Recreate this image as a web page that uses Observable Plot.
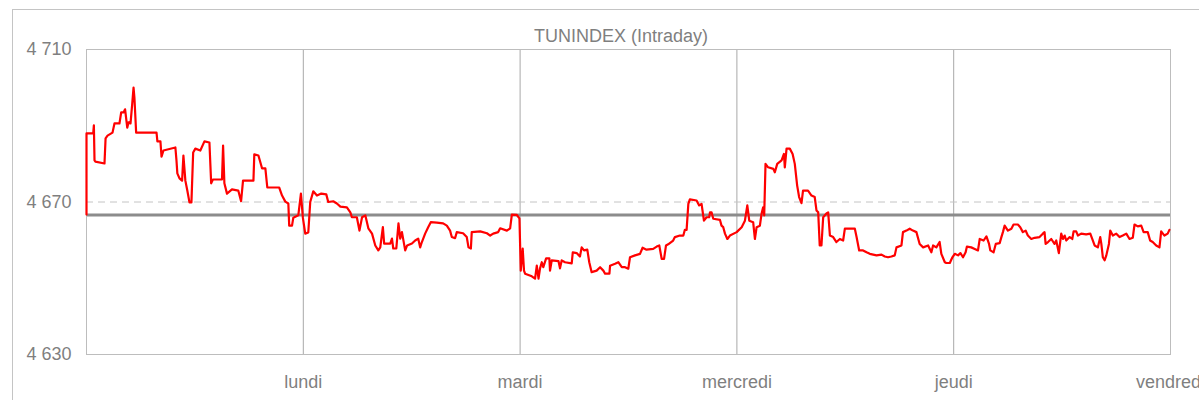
<!DOCTYPE html>
<html>
<head>
<meta charset="utf-8">
<script src="https://cdn.jsdelivr.net/npm/d3@7"></script>
<script src="https://cdn.jsdelivr.net/npm/@observablehq/plot@0.6"></script>
<style>
  html, body { margin: 0; padding: 0; background: #fff; width: 1199px; height: 400px; overflow: hidden; }
  #wrap { position: relative; width: 1199px; height: 400px; overflow: hidden; font-family: "Liberation Sans", Arial, sans-serif; }
  #border { position: absolute; left: 12px; top: 9px; width: 1300px; height: 500px; border: 1px solid #c4c4c4; box-sizing: border-box; }
  #title { position: absolute; left: 0; width: 1242px; top: 25px; text-align: center; font-size: 18px; color: #7f7f7f; line-height: 22px; }
  #chart { position: absolute; left: 0; top: 0; }
</style>
</head>
<body>
<div id="wrap">
  <div id="border"></div>
  <div id="title">TUNINDEX (Intraday)</div>
  <div id="chart"></div>
</div>
<script>
// Time in trading-day units (0 = start of first session shown), index level
const intraday = [
  [0,4666.7],[0,4688.0],[0.031,4688.0],[0.034,4690.1],[0.037,4680.9],[0.041,4680.6],[0.083,4680.1],[0.088,4686.7],
  [0.097,4687.4],[0.120,4688.2],[0.129,4690.6],[0.152,4690.6],[0.160,4693.5],[0.171,4693.5],[0.178,4694.3],[0.188,4689.5],
  [0.194,4690.9],[0.203,4690.6],[0.211,4695.8],[0.217,4700.0],[0.221,4697.4],[0.229,4688.2],[0.323,4688.2],[0.327,4685.9],
  [0.341,4685.9],[0.346,4681.9],[0.355,4683.5],[0.410,4684.3],[0.415,4680.9],[0.419,4677.5],[0.429,4676.2],[0.441,4675.6],
  [0.447,4682.2],[0.456,4675.6],[0.465,4673.0],[0.475,4669.9],[0.484,4669.9],[0.492,4683.0],[0.502,4684.0],[0.525,4683.5],
  [0.544,4685.9],[0.567,4685.6],[0.575,4674.9],[0.583,4675.9],[0.625,4675.9],[0.630,4684.8],[0.636,4674.9],[0.648,4672.2],
  [0.671,4673.3],[0.700,4673.0],[0.713,4670.2],[0.722,4675.6],[0.770,4675.6],[0.774,4682.5],[0.793,4682.2],[0.810,4678.8],
  [0.825,4678.8],[0.834,4673.8],[0.889,4673.8],[0.902,4671.7],[0.917,4670.1],[0.931,4669.6],[0.935,4663.8],[0.948,4663.8],
  [0.954,4665.9],[0.977,4666.5],[0.989,4672.2],[0.998,4665.9],
  [1.009,4661.7],[1.023,4662.0],[1.032,4670.0],[1.046,4672.8],[1.063,4671.7],[1.083,4672.2],[1.106,4672.0],[1.115,4670.0],
  [1.138,4670.2],[1.155,4669.6],[1.171,4668.8],[1.201,4668.6],[1.217,4667.3],[1.224,4666.0],[1.247,4666.0],[1.259,4662.5],
  [1.271,4666.0],[1.286,4666.5],[1.300,4663.1],[1.317,4661.7],[1.332,4658.6],[1.346,4657.3],[1.355,4658.1],[1.367,4663.4],
  [1.373,4659.1],[1.401,4659.1],[1.409,4660.4],[1.415,4657.8],[1.429,4657.8],[1.439,4664.4],[1.447,4660.4],[1.455,4662.1],
  [1.470,4657.3],[1.479,4658.6],[1.501,4659.1],[1.516,4659.9],[1.530,4660.4],[1.539,4658.1],[1.547,4659.5],[1.562,4661.7],
  [1.576,4663.4],[1.588,4664.7],[1.616,4664.6],[1.645,4664.4],[1.662,4663.8],[1.677,4662.5],[1.685,4660.8],[1.700,4660.5],
  [1.708,4662.1],[1.737,4661.8],[1.754,4660.8],[1.762,4658.1],[1.773,4657.8],[1.777,4662.1],[1.816,4662.3],[1.847,4661.8],
  [1.862,4661.2],[1.876,4661.7],[1.899,4662.1],[1.908,4663.1],[1.939,4662.5],[1.954,4663.1],[1.962,4666.7],[1.985,4666.6],
  [1.997,4665.7],
  [2.003,4652.0],[2.012,4657.8],[2.018,4652.0],[2.023,4651.2],[2.054,4650.5],[2.069,4649.9],[2.077,4653.3],[2.085,4649.9],
  [2.092,4652.6],[2.100,4654.2],[2.107,4652.9],[2.120,4655.2],[2.135,4655.2],[2.138,4652.0],[2.146,4654.7],[2.177,4654.5],
  [2.184,4652.6],[2.192,4654.7],[2.207,4654.2],[2.238,4653.9],[2.243,4656.8],[2.261,4656.6],[2.276,4655.7],[2.284,4658.1],
  [2.295,4657.3],[2.310,4657.5],[2.319,4654.2],[2.330,4651.6],[2.353,4652.0],[2.369,4652.9],[2.384,4652.0],[2.392,4651.2],
  [2.412,4651.2],[2.415,4653.3],[2.438,4653.8],[2.453,4654.2],[2.469,4652.9],[2.484,4652.9],[2.499,4652.5],[2.507,4655.5],
  [2.530,4656.0],[2.553,4656.4],[2.565,4658.0],[2.583,4657.5],[2.614,4657.7],[2.630,4658.3],[2.642,4658.6],[2.653,4655.1],
  [2.664,4655.1],[2.673,4658.6],[2.683,4658.9],[2.706,4659.9],[2.714,4660.8],[2.737,4661.2],[2.753,4661.2],[2.760,4662.7],
  [2.768,4662.7],[2.776,4669.5],[2.783,4670.7],[2.814,4670.4],[2.826,4669.1],[2.837,4669.5],[2.848,4665.1],[2.860,4666.0],
  [2.872,4666.0],[2.876,4667.3],[2.883,4667.3],[2.891,4665.6],[2.922,4665.3],[2.929,4663.8],[2.937,4663.4],[2.945,4661.7],
  [2.956,4660.3],[2.968,4661.2],[2.999,4662.1],
  [3.022,4663.4],[3.037,4665.1],[3.048,4669.1],[3.057,4665.1],[3.075,4664.7],[3.083,4660.3],[3.091,4663.4],[3.106,4663.8],
  [3.114,4667.0],[3.121,4668.6],[3.126,4666.5],[3.132,4680.0],[3.144,4679.1],[3.168,4678.7],[3.175,4677.8],[3.186,4680.0],
  [3.206,4680.9],[3.217,4682.6],[3.221,4679.1],[3.229,4684.0],[3.244,4684.0],[3.257,4682.6],[3.267,4680.0],[3.278,4674.3],
  [3.287,4671.3],[3.298,4669.7],[3.305,4673.0],[3.328,4673.0],[3.344,4671.7],[3.359,4671.3],[3.367,4667.8],[3.375,4667.3],
  [3.382,4658.6],[3.390,4658.6],[3.398,4666.0],[3.413,4667.0],[3.421,4667.3],[3.429,4661.2],[3.444,4660.8],[3.459,4659.5],
  [3.475,4660.3],[3.490,4659.9],[3.498,4663.0],[3.544,4663.0],[3.552,4660.8],[3.564,4657.3],[3.582,4657.3],[3.598,4656.8],
  [3.613,4656.4],[3.644,4656.0],[3.667,4656.2],[3.682,4655.7],[3.697,4655.5],[3.713,4655.7],[3.728,4656.0],[3.736,4658.1],
  [3.759,4658.6],[3.766,4662.1],[3.782,4662.5],[3.797,4663.0],[3.812,4662.5],[3.828,4662.1],[3.843,4659.0],[3.859,4658.1],
  [3.882,4658.6],[3.897,4656.8],[3.905,4658.6],[3.920,4658.1],[3.935,4659.5],[3.943,4656.4],[3.959,4654.2],[3.966,4654.0],
  [3.982,4654.0],[3.994,4655.5],
  [4.005,4656.4],[4.020,4656.0],[4.031,4656.6],[4.043,4655.5],[4.055,4656.8],[4.061,4658.3],[4.081,4658.1],[4.097,4657.7],
  [4.112,4657.3],[4.120,4660.3],[4.138,4659.9],[4.151,4661.0],[4.163,4659.0],[4.169,4657.3],[4.184,4656.8],[4.194,4659.0],
  [4.212,4659.2],[4.220,4660.8],[4.227,4662.1],[4.235,4663.8],[4.250,4662.5],[4.266,4663.0],[4.276,4664.1],[4.296,4664.1],
  [4.307,4663.4],[4.319,4662.1],[4.332,4662.5],[4.342,4661.2],[4.358,4660.3],[4.373,4660.6],[4.396,4660.8],[4.411,4661.7],
  [4.419,4662.1],[4.424,4659.0],[4.435,4659.5],[4.450,4660.3],[4.465,4659.0],[4.473,4659.9],[4.485,4656.6],[4.496,4661.7],
  [4.504,4660.3],[4.512,4661.2],[4.519,4659.9],[4.535,4660.8],[4.547,4660.3],[4.553,4662.3],[4.565,4662.3],[4.573,4661.2],
  [4.588,4661.7],[4.611,4661.5],[4.630,4661.7],[4.639,4660.3],[4.650,4658.6],[4.665,4658.1],[4.676,4660.8],[4.681,4659.0],
  [4.688,4655.5],[4.696,4654.7],[4.704,4656.0],[4.716,4659.0],[4.722,4662.5],[4.734,4661.2],[4.750,4661.7],[4.765,4660.8],
  [4.780,4661.2],[4.796,4661.7],[4.811,4660.3],[4.826,4660.6],[4.834,4664.1],[4.849,4663.6],[4.865,4663.8],[4.876,4662.1],
  [4.895,4662.1],[4.906,4659.9],[4.918,4659.5],[4.934,4658.6],[4.949,4658.1],[4.957,4662.3],[4.972,4661.2],[4.987,4661.7],
  [4.995,4662.7]
];
const dayTicks = [1, 2, 3, 4, 5];
const dayLabels = ["lundi", "mardi", "mercredi", "jeudi", "vendredi"];
const yTicks = [4630, 4670, 4710];
const previousClose = [4666.6];
const dashedLevel = [4670];

const data = intraday.map(([t, v]) => ({t, v}));
const fmtY = d => String(d).replace(/(\d)(\d{3})$/, "$1 $2");
const fmtX = d => dayLabels[dayTicks.indexOf(d)];

const chart = Plot.plot({
  width: 1199,
  height: 400,
  marginLeft: 86,
  marginRight: 29,
  marginTop: 49,
  marginBottom: 46,
  style: {fontFamily: '"Liberation Sans", Arial, sans-serif', fontSize: "18px", color: "#7f7f7f", background: "transparent"},
  x: {domain: [0, 5], ticks: dayTicks, tickFormat: fmtX, tickSize: 0, tickPadding: 21, label: null},
  y: {domain: [4630, 4710], ticks: yTicks, tickFormat: fmtY, tickSize: 0, tickPadding: 15, label: null},
  marks: [
    Plot.ruleX(dayTicks.slice(0, 4), {stroke: "#a8a8a8", strokeWidth: 1}),
    Plot.ruleY(dashedLevel, {stroke: "#c4c4c4", strokeWidth: 1, strokeDasharray: "7,5"}),
    Plot.ruleY(previousClose, {stroke: "#8c8c8c", strokeWidth: 3}),
    Plot.frame({stroke: "#bdbdbd", strokeWidth: 1}),
    Plot.line(data, {x: "t", y: "v", stroke: "#ff0000", strokeWidth: 2.2, strokeLinejoin: "round"})
  ]
});
document.getElementById("chart").appendChild(chart);
</script>
</body>
</html>
